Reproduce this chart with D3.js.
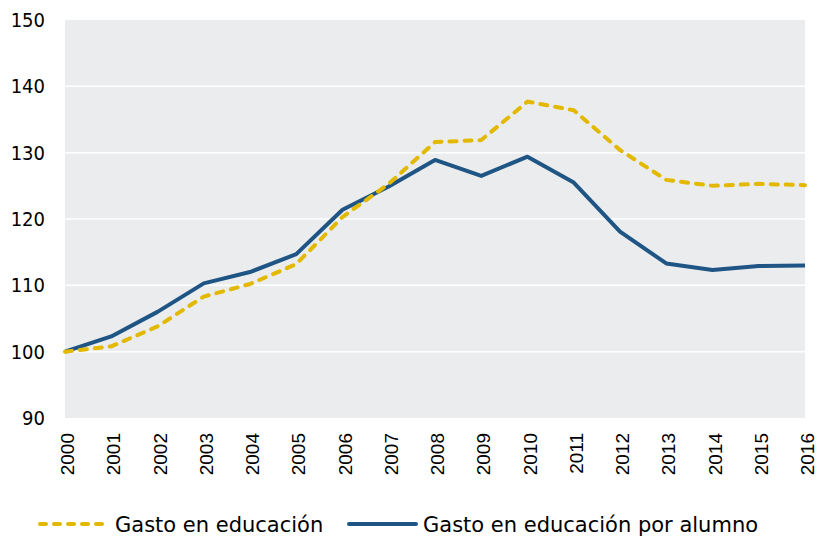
<!DOCTYPE html>
<html>
<head>
<meta charset="utf-8">
<script src="https://cdn.jsdelivr.net/npm/d3@7"></script>
<style>
  body { margin: 0; background: #fff; }
  text { font-family: "DejaVu Sans Condensed", "DejaVu Sans", sans-serif; fill: #000; }
</style>
</head>
<body>
<div id="chart"></div>
<script>
// years on the x axis
const years = [2000, 2001, 2002, 2003, 2004, 2005, 2006, 2007, 2008,
               2009, 2010, 2011, 2012, 2013, 2014, 2015, 2016];
// index 2000 = 100
const gastoEducacion = [100, 100.8, 103.8, 108.3, 110.2, 113.2, 120.3, 125.3, 131.6,
                        131.9, 137.7, 136.4, 130.4, 125.9, 125.0, 125.3, 125.1];
const gastoPorAlumno = [100, 102.3, 106.0, 110.3, 112.0, 114.7, 121.4, 124.9, 128.9,
                        126.5, 129.4, 125.5, 118.1, 113.3, 112.3, 112.9, 113.0];
const yTicks = [90, 100, 110, 120, 130, 140, 150];
const seriesNames = ["Gasto en educación", "Gasto en educación por alumno"];

const W = 817, H = 536;
const m = {t: 20, r: 12, b: 118, l: 65};
const w = W - m.l - m.r, h = H - m.t - m.b;

const svg = d3.select("#chart").append("svg")
    .attr("width", W).attr("height", H);
const g = svg.append("g").attr("transform", "translate(" + m.l + "," + m.t + ")");

const x = d3.scaleLinear().domain([2000, 2016]).range([0, w]);
const y = d3.scaleLinear().domain([90, 150]).range([h, 0]);

// plot background
g.append("rect").attr("width", w).attr("height", h).attr("fill", "#ebecee");

// white gridlines
g.selectAll(".grid").data(yTicks.filter(function(d){ return d > 90 && d < 150; }))
  .enter().append("line")
    .attr("x1", 0).attr("x2", w)
    .attr("y1", function(d){ return y(d); }).attr("y2", function(d){ return y(d); })
    .attr("stroke", "#fff").attr("stroke-width", 1.5);

// y axis labels
const yAxis = d3.axisLeft(y).tickValues(yTicks).tickSize(0).tickPadding(20);
g.append("g").call(yAxis)
  .call(function(s){ s.select(".domain").remove(); })
  .selectAll("text")
    .style("font-size", "20px")
    .style("font-family", "'DejaVu Sans Condensed', sans-serif");

// x axis labels, rotated
const xAxis = d3.axisBottom(x).tickValues(years).tickFormat(d3.format("d")).tickSize(0);
g.append("g").attr("transform", "translate(0," + h + ")").call(xAxis)
  .call(function(s){ s.select(".domain").remove(); })
  .selectAll("text")
    .style("font-size", "19px")
    .style("font-family", "'Liberation Sans', Arial, sans-serif")
    .attr("text-anchor", "end")
    .attr("transform", "rotate(-90)")
    .attr("x", -15).attr("y", 2).attr("dy", "0.35em");

const line = d3.line()
    .x(function(d, i){ return x(years[i]); })
    .y(function(d){ return y(d); });

g.append("path").datum(gastoPorAlumno)
    .attr("d", line).attr("fill", "none")
    .attr("stroke", "#1f5584").attr("stroke-width", 4)
    .attr("stroke-linejoin", "round");

g.append("path").datum(gastoEducacion)
    .attr("d", line).attr("fill", "none")
    .attr("stroke", "#e2b900").attr("stroke-width", 4)
    .attr("stroke-dasharray", "7,8").attr("stroke-linecap", "round")
    .attr("stroke-linejoin", "round");

// legend
const leg = svg.append("g").attr("transform", "translate(0,524)");
const legItems = [
  {name: seriesNames[0], color: "#e2b900", dash: "6,8", x0: 40, x1: 109, tx: 115},
  {name: seriesNames[1], color: "#1f5584", dash: null, x0: 349, x1: 416, tx: 423}
];
legItems.forEach(function(d){
  leg.append("line").attr("x1", d.x0).attr("x2", d.x1).attr("y1", 0).attr("y2", 0)
    .attr("stroke", d.color).attr("stroke-width", 4)
    .attr("stroke-linecap", "round")
    .attr("stroke-dasharray", d.dash);
  leg.append("text").attr("x", d.tx).attr("y", 7.5)
    .style("font-family", "'DejaVu Sans', sans-serif")
    .style("font-size", "21px").text(d.name);
});
</script>
</body>
</html>
